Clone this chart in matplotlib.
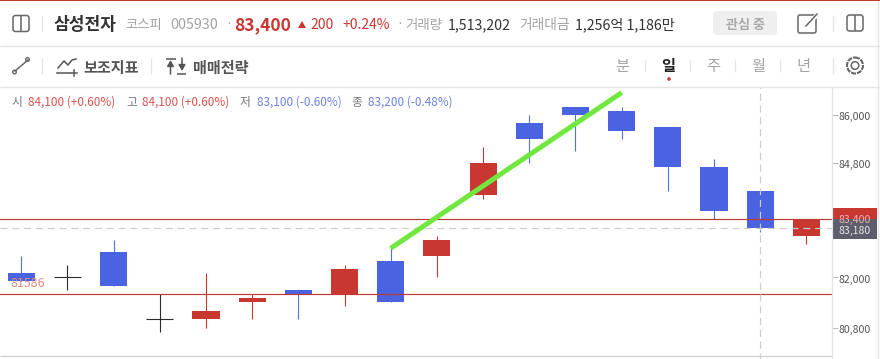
import matplotlib
matplotlib.use("Agg")
import matplotlib.pyplot as plt
from matplotlib.patches import FancyBboxPatch, Rectangle, Circle, Polygon

plt.rcParams['font.family'] = ['Noto Sans CJK KR', 'DejaVu Sans']

# daily candles
opens = [82100, 82000, 82600, 81000, 81000, 81400, 81700, 81600, 82400, 82500, 84000, 85800, 86200, 86100, 85700, 84700, 84100, 83000]
highs = [82500, 82300, 82900, 81600, 82100, 81600, 81700, 82300, 82700, 83000, 85200, 86000, 86200, 86200, 85700, 84900, 84100, 83400]
lows = [81900, 81700, 81800, 80700, 80800, 81000, 81000, 81300, 81400, 82000, 83900, 84800, 85100, 85400, 84100, 83400, 83100, 82800]
closes = [81900, 82000, 81800, 81000, 81200, 81500, 81600, 82200, 81400, 82900, 84800, 85400, 86000, 85600, 84700, 83600, 83200, 83400]

y_ticks = [86000, 84800, 82000, 80800]
y_tick_labels = ['86,000', '84,800', '82,000', '80,800']
support_price = 81586
last_price = 83400
cross_price = 83180
cross_index = 16
trend_x = [8, 13]
trend_y = [82700, 86560]

RED = '#c93731'
BLUE = '#4a63e0'
WICK_BLUE = '#4a74e0'
GRID = '#e3e3e3'
GRAY = '#a3a3a3'
DARK = '#333333'

fig = plt.figure(figsize=(8.8, 3.59), dpi=100)
fig.patch.set_facecolor('white')


def px_axes(left, top, right, bottom):
    return [left / 880, 1 - bottom / 359, (right - left) / 880, (bottom - top) / 359]


# price chart
ax = fig.add_axes(px_axes(0, 86.5, 832, 355.5))
ax.set_yscale('log')
ax.set_xlim(-0.461, 17.555)
ax.set_ylim(80140, 86715)
for side in ['top', 'left', 'right', 'bottom']:
    ax.spines[side].set_visible(False)
ax.set_xticks([])
ax.yaxis.tick_right()
ax.minorticks_off()
ax.set_yticks(y_ticks)
ax.set_yticklabels([])
ax.tick_params(axis='y', which='major', length=4, width=0.7, color='#bbbbbb')
ax.tick_params(axis='y', which='minor', length=0)
# tick labels sit a little below their tick in the original
for tick, tick_label in zip(y_ticks, y_tick_labels):
    ax.annotate(tick_label, xy=(1, tick), xycoords=ax.get_yaxis_transform(), xytext=(5, -1),
                textcoords='offset points', color='#555555', fontsize=7.6, ha='left', va='center_baseline')

for i in range(len(opens)):
    if closes[i] > opens[i]:
        color, wick = RED, RED
    elif closes[i] < opens[i]:
        color, wick = BLUE, WICK_BLUE
    else:
        color, wick = '#2b2b2b', '#2b2b2b'
    ax.plot([i, i], [lows[i], highs[i]], color=wick, lw=0.8, solid_capstyle='butt', zorder=2)
    if closes[i] == opens[i]:
        ax.plot([i - 0.29, i + 0.29], [opens[i], opens[i]], color=color, lw=0.8, solid_capstyle='butt', zorder=3)
    else:
        ax.bar(i, abs(closes[i] - opens[i]), bottom=min(opens[i], closes[i]), width=0.586, color=color, zorder=3)

ax.axhline(last_price, color='#bf3a34', lw=0.85, zorder=5)
ax.axhline(support_price, color='#bf3a34', lw=0.85, zorder=5)
ax.axhline(cross_price, color='#cccccc', lw=0.85, dashes=(6, 4), zorder=5)
ax.axvline(cross_index, ymin=-0.015, ymax=1, color='#cccccc', lw=0.85, dashes=(6, 4), zorder=5, clip_on=False)
ax.plot(trend_x, trend_y, color='#70e840', lw=3.6, solid_capstyle='butt', zorder=6)
ax.text(-0.23, 81840, str(support_price), color='#e08a86', fontsize=8.9, va='center', ha='left', zorder=7)

# header and toolbar, laid over in pixel coordinates
ui = fig.add_axes([0, 0, 1, 1], zorder=5)
ui.set_xlim(0, 880)
ui.set_ylim(359, 0)
ui.axis('off')
ui.patch.set_alpha(0)


def label(x, y, s, color=GRAY, size=9, weight='normal', ha='left'):
    ui.text(x, y, s, color=color, fontsize=size, fontweight=weight, ha=ha, va='center_baseline')


def hline(y, x0=0, x1=880, color=GRID, lw=0.9):
    ui.plot([x0, x1], [y, y], color=color, lw=lw, solid_capstyle='butt')


def vline(x, y0, y1, color=GRID, lw=0.9):
    ui.plot([x, x], [y0, y1], color=color, lw=lw, solid_capstyle='butt')


def panel_icon(x0, y0, size):
    ui.add_patch(FancyBboxPatch((x0 + 2, y0 + 2), size - 4, size - 4, boxstyle='round,pad=2,rounding_size=2.5', fc='none', ec='#666666', lw=1.1))
    vline(x0 + size / 2, y0, y0 + size, color='#666666', lw=1.1)


ui.add_patch(Rectangle((0, 0), 880, 1.4, fc=RED, ec='none'))
hline(45.5)
hline(86.5)
hline(355.5, 0, 832, color='#cfcfcf')
vline(831.7, 87, 359)
vline(877.5, 1, 359)

# first row
panel_icon(13, 15.5, 16)
vline(42, 15, 31)
label(54, 23.5, '삼성전자', DARK, 12.3, 'bold')
label(125, 23.5, '코스피', GRAY, 9.6)
label(170, 23.5, '005930', GRAY, 10.3)
label(225, 23.5, '·', GRAY, 9)
label(234, 23.5, '83,400', RED, 12.5, 'bold')
ui.add_patch(Polygon([[298, 28], [306, 28], [302, 21]], fc=RED, ec='none'))
label(310, 23.5, '200', RED, 10)
label(342, 23.5, '+0.24%', RED, 10)
label(396, 23.5, '·', GRAY, 9)
label(405, 23.5, '거래량', GRAY, 9.7)
label(448, 23.5, '1,513,202', DARK, 10.2)
label(519, 23.5, '거래대금', GRAY, 9.9)
label(575, 23.5, '1,256억 1,186만', DARK, 10.2)
ui.add_patch(FancyBboxPatch((716, 14), 58, 18, boxstyle='round,pad=3,rounding_size=4', fc='#efefef', ec='none'))
label(745, 23, '관심 중', '#aaaaaa', 9.4, 'bold', 'center')
ui.add_patch(FancyBboxPatch((800, 17), 14, 14, boxstyle='round,pad=2,rounding_size=2', fc='white', ec='#666666', lw=1.1))
ui.plot([806, 819], [26, 13], color='white', lw=3, solid_capstyle='butt')
ui.plot([806, 817], [26, 14], color='#666666', lw=1.1)
vline(833, 15, 31)
panel_icon(847, 15, 16)

# second row
ui.plot([15, 28], [71, 60], color='#666666', lw=1.1)
ui.add_patch(Circle((14.5, 72), 1.8, fc='white', ec='#666666', lw=1))
ui.add_patch(Circle((27.5, 59.5), 1.8, fc='white', ec='#666666', lw=1))
vline(42, 58, 74)
ui.plot([58, 64, 68, 72, 76], [68, 61, 65, 60, 59], color='#555555', lw=1.1)
ui.plot([57, 70], [72.5, 72.5], color='#555555', lw=1.1)
ui.plot([71, 77], [72.5, 72.5], color='#555555', lw=1.1)
ui.plot([74, 74], [69.5, 75.5], color='#555555', lw=1.1)
label(83, 66, '보조지표', '#555555', 10.9, 'bold')
vline(151, 58, 74)
hline(58.5, 166, 176, '#555555', 1.1)
ui.annotate('', xy=(170.5, 60), xytext=(170.5, 74), arrowprops=dict(arrowstyle='-|>,head_width=0.2,head_length=0.35', color='#555555', lw=1.1, shrinkA=0, shrinkB=0))
ui.annotate('', xy=(182, 71), xytext=(182, 58), arrowprops=dict(arrowstyle='-|>,head_width=0.2,head_length=0.35', color='#555555', lw=1.1, shrinkA=0, shrinkB=0))
hline(73.5, 177, 186, '#555555', 1.1)
label(193, 66, '매매전략', '#555555', 10.9, 'bold')

periods = ['분', '일', '주', '월', '년']
period_x = [622, 668, 713, 758, 803]
for name, px in zip(periods, period_x):
    if name == '일':
        label(px, 65, name, '#222222', 11, 'bold', 'center')
    else:
        label(px, 65, name, GRAY, 11, 'normal', 'center')
for sx in [645, 690, 735, 780]:
    vline(sx, 60, 72)
vline(833, 58, 74)
ui.add_patch(Circle((669, 79), 1.8, fc=RED, ec='none'))
ui.add_patch(Circle((855, 65.5), 8, fc='none', ec='#666666', lw=1.5, ls=(0, (2.4, 0.5))))
ui.add_patch(Circle((855, 65.5), 3.8, fc='none', ec='#666666', lw=1.1))

# hovered candle values
label(11, 101, '시', '#777777', 8.5)
label(28, 101, '84,100 (+0.60%)', '#d9534f', 8.5)
label(126, 101, '고', '#777777', 8.5)
label(142, 101, '84,100 (+0.60%)', '#d9534f', 8.5)
label(240, 101, '저', '#777777', 8.5)
label(257, 101, '83,100 (-0.60%)', '#6b82e8', 8.5)
label(351, 101, '종', '#777777', 8.5)
label(368, 101, '83,200 (-0.48%)', '#6b82e8', 8.5)

# price boxes on the axis
ui.add_patch(Rectangle((832, 208), 45, 24, fc=RED, ec='none'))
label(855, 219, '83,400', '#f0b0ac', 7.6, 'normal', 'center')
ui.add_patch(Rectangle((832, 219.3), 45, 19.7, fc='#5a5f6b', ec='none'))
label(855, 229.5, '83,180', '#e6e6e6', 7.6, 'normal', 'center')

fig.savefig('out.png', dpi=100)
